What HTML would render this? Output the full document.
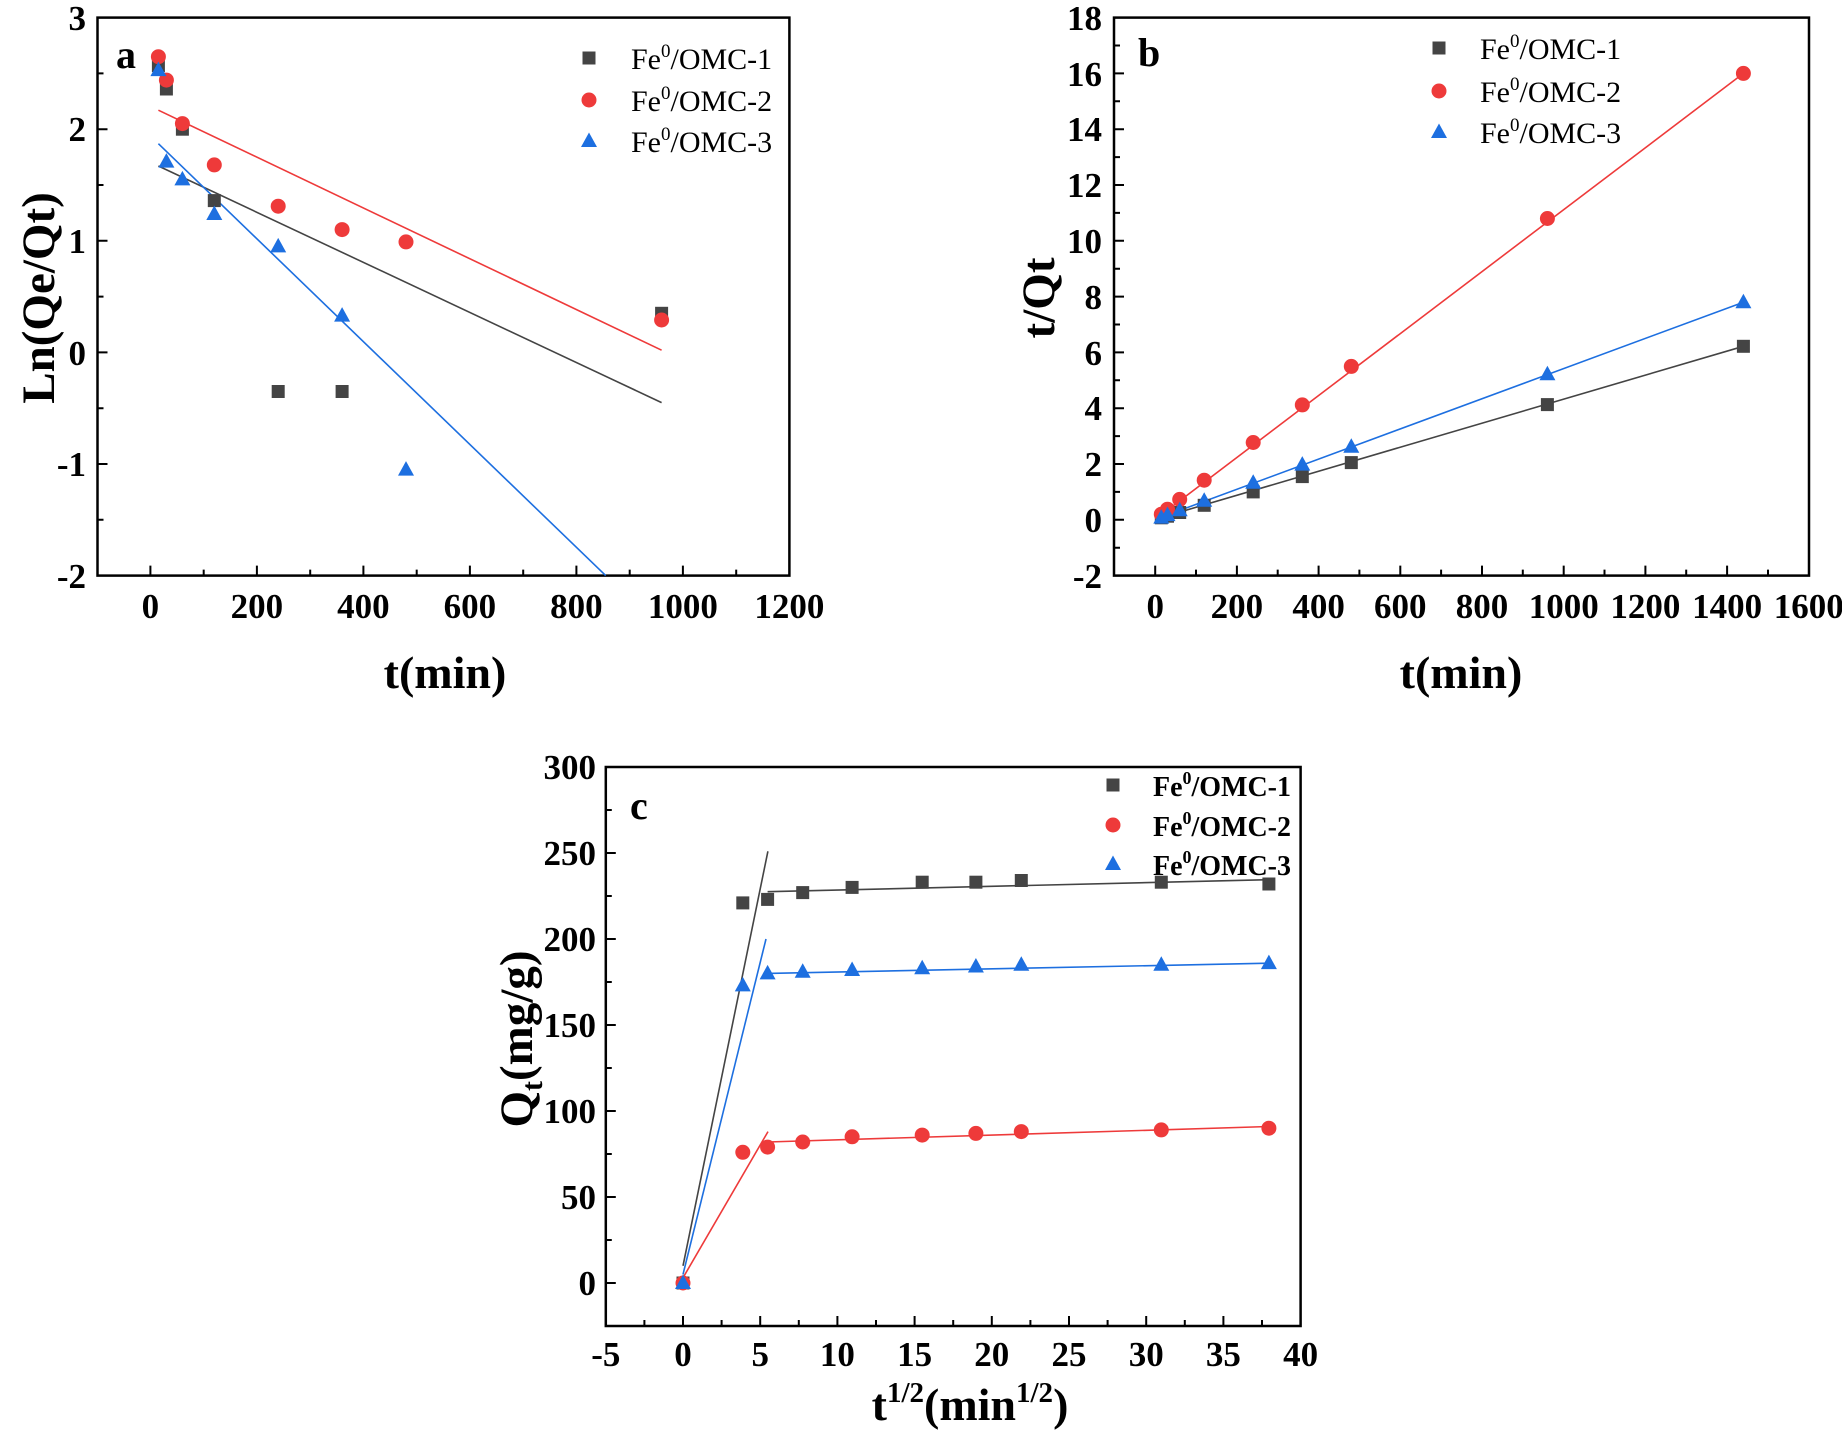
<!DOCTYPE html>
<html><head><meta charset="utf-8"><style>html,body{margin:0;padding:0;background:#fff}svg{display:block}</style></head>
<body>
<svg width="1842" height="1436" viewBox="0 0 1842 1436" xmlns="http://www.w3.org/2000/svg" font-family="'Liberation Serif', serif">
<defs>
<rect id="sq" x="-6.5" y="-6.5" width="13" height="13" fill="#444"/>
<circle id="ci" r="7.5" fill="#ee3a3a"/>
<polygon id="tr" points="0,-8.5 8,6 -8,6" fill="#1d6fe0"/>
</defs>
<g stroke="#000" stroke-width="2.5" fill="none">
<rect x="97.5" y="17.6" width="691.9" height="558"/>
<rect x="1114" y="17.6" width="695" height="558"/>
<rect x="605.8" y="767" width="694.8" height="559"/>
</g>
<path stroke="#000" stroke-width="2" d="M97.5 129.2h10M97.5 240.8h10M97.5 352.4h10M97.5 464h10M97.5 73.4h6M97.5 185h6M97.5 296.6h6M97.5 408.2h6M97.5 519.8h6
M150.4 575.6v-10M256.9 575.6v-10M363.4 575.6v-10M469.9 575.6v-10M576.4 575.6v-10M682.9 575.6v-10
M203.7 575.6v-6M310.2 575.6v-6M416.7 575.6v-6M523.2 575.6v-6M629.7 575.6v-6M736.2 575.6v-6"/>
<g font-weight="bold" font-size="35" text-anchor="end">
<text x="86" y="30">3</text><text x="86" y="141">2</text><text x="86" y="253">1</text><text x="86" y="365">0</text><text x="86" y="476">-1</text><text x="86" y="588">-2</text>
</g>
<g font-weight="bold" font-size="35" text-anchor="middle">
<text x="150.4" y="618">0</text><text x="256.9" y="618">200</text><text x="363.4" y="618">400</text><text x="469.9" y="618">600</text><text x="576.4" y="618">800</text><text x="682.9" y="618">1000</text><text x="789.4" y="618">1200</text>
<text x="445" y="688" font-size="46">t(min)</text>
<text transform="translate(38,298) rotate(-90)" x="0" y="16" font-size="47">Ln(Qe/Qt)</text>
</g>
<text x="116" y="68" font-weight="bold" font-size="40">a</text>
<g font-size="30">
<use href="#sq" x="589" y="58"/><text x="631" y="69">Fe<tspan font-size="19" dy="-12">0</tspan><tspan dy="12">/OMC-1</tspan></text>
<use href="#ci" x="589" y="100"/><text x="631" y="111">Fe<tspan font-size="19" dy="-12">0</tspan><tspan dy="12">/OMC-2</tspan></text>
<use href="#tr" x="589" y="141"/><text x="631" y="152">Fe<tspan font-size="19" dy="-12">0</tspan><tspan dy="12">/OMC-3</tspan></text>
</g>
<g stroke-width="1.6">
<line x1="158.4" y1="166" x2="661.6" y2="402.6" stroke="#444"/>
<line x1="158.4" y1="110.2" x2="661.6" y2="350.2" stroke="#ee3a3a"/>
<line x1="158.4" y1="143.7" x2="605.7" y2="575.6" stroke="#1d6fe0"/>
</g>
<use href="#sq" x="158.4" y="65.6"/><use href="#sq" x="166.4" y="89"/><use href="#sq" x="182.4" y="129.2"/><use href="#sq" x="214.3" y="200.6"/><use href="#sq" x="278.2" y="391.5"/><use href="#sq" x="342.1" y="391.5"/><use href="#sq" x="661.6" y="313.3"/>
<use href="#ci" x="158.4" y="56.7"/><use href="#ci" x="166.4" y="80.1"/><use href="#ci" x="182.4" y="123.6"/><use href="#ci" x="214.3" y="164.9"/><use href="#ci" x="278.2" y="206.2"/><use href="#ci" x="342.1" y="229.6"/><use href="#ci" x="406" y="241.9"/><use href="#ci" x="661.6" y="320"/>
<use href="#tr" x="158.4" y="70.1"/><use href="#tr" x="166.4" y="161.6"/><use href="#tr" x="182.4" y="179.4"/><use href="#tr" x="214.3" y="214"/><use href="#tr" x="278.2" y="246.4"/><use href="#tr" x="342.1" y="315.6"/><use href="#tr" x="406" y="469.6"/>

<path stroke="#000" stroke-width="2" d="M1114 73.4h10M1114 129.2h10M1114 185h10M1114 240.8h10M1114 296.6h10M1114 352.4h10M1114 408.2h10M1114 464h10M1114 519.8h10
M1114 45.5h6M1114 101.3h6M1114 157.1h6M1114 212.9h6M1114 268.7h6M1114 324.5h6M1114 380.3h6M1114 436.1h6M1114 491.9h6M1114 547.7h6
M1155.2 575.6v-10M1236.9 575.6v-10M1318.6 575.6v-10M1400.3 575.6v-10M1482 575.6v-10M1563.7 575.6v-10M1645.4 575.6v-10M1727.1 575.6v-10
M1196 575.6v-6M1277.7 575.6v-6M1359.4 575.6v-6M1441.1 575.6v-6M1522.8 575.6v-6M1604.5 575.6v-6M1686.2 575.6v-6M1768 575.6v-6"/>
<g font-weight="bold" font-size="35" text-anchor="end">
<text x="1102" y="30">18</text><text x="1102" y="86">16</text><text x="1102" y="141">14</text><text x="1102" y="197">12</text><text x="1102" y="253">10</text><text x="1102" y="309">8</text><text x="1102" y="365">6</text><text x="1102" y="420">4</text><text x="1102" y="476">2</text><text x="1102" y="532">0</text><text x="1102" y="588">-2</text>
</g>
<g font-weight="bold" font-size="35" text-anchor="middle">
<text x="1155.2" y="618">0</text><text x="1236.9" y="618">200</text><text x="1318.6" y="618">400</text><text x="1400.3" y="618">600</text><text x="1482" y="618">800</text><text x="1563.7" y="618">1000</text><text x="1645.4" y="618">1200</text><text x="1727.1" y="618">1400</text><text x="1808.8" y="618">1600</text>
<text x="1461" y="688" font-size="46">t(min)</text>
<text transform="translate(1038,298) rotate(-90)" x="0" y="16" font-size="47">t/Qt</text>
</g>
<text x="1138" y="66" font-weight="bold" font-size="40">b</text>
<g font-size="30">
<use href="#sq" x="1439" y="48"/><text x="1480" y="59">Fe<tspan font-size="19" dy="-12">0</tspan><tspan dy="12">/OMC-1</tspan></text>
<use href="#ci" x="1439" y="91"/><text x="1480" y="102">Fe<tspan font-size="19" dy="-12">0</tspan><tspan dy="12">/OMC-2</tspan></text>
<use href="#tr" x="1439" y="132"/><text x="1480" y="143">Fe<tspan font-size="19" dy="-12">0</tspan><tspan dy="12">/OMC-3</tspan></text>
</g>
<g stroke-width="1.6">
<line x1="1161.3" y1="517.5" x2="1743.4" y2="346.3" stroke="#444"/>
<line x1="1161.3" y1="514.8" x2="1743.4" y2="73.4" stroke="#ee3a3a"/>
<line x1="1161.3" y1="517.2" x2="1743.4" y2="302.2" stroke="#1d6fe0"/>
</g>
<use href="#sq" x="1161.3" y="517.8"/><use href="#sq" x="1167.5" y="516.2"/><use href="#sq" x="1179.7" y="512.5"/><use href="#sq" x="1204.2" y="505.3"/><use href="#sq" x="1253.2" y="491.9"/><use href="#sq" x="1302.3" y="476.6"/><use href="#sq" x="1351.3" y="462.6"/><use href="#sq" x="1547.4" y="404.6"/><use href="#sq" x="1743.4" y="346.3"/>
<use href="#ci" x="1161.3" y="514.2"/><use href="#ci" x="1167.5" y="509.2"/><use href="#ci" x="1179.7" y="499.4"/><use href="#ci" x="1204.2" y="480.2"/><use href="#ci" x="1253.2" y="442.5"/><use href="#ci" x="1302.3" y="404.9"/><use href="#ci" x="1351.3" y="366.4"/><use href="#ci" x="1547.4" y="218.5"/><use href="#ci" x="1743.4" y="73.4"/>
<use href="#tr" x="1161.3" y="517.6"/><use href="#tr" x="1167.5" y="515.1"/><use href="#tr" x="1179.7" y="510.3"/><use href="#tr" x="1204.2" y="500.8"/><use href="#tr" x="1253.2" y="482.7"/><use href="#tr" x="1302.3" y="464.6"/><use href="#tr" x="1351.3" y="446.7"/><use href="#tr" x="1547.4" y="374.2"/><use href="#tr" x="1743.4" y="302.2"/>

<path stroke="#000" stroke-width="2" d="M605.8 853h10M605.8 939h10M605.8 1025h10M605.8 1111h10M605.8 1197h10M605.8 1283h10
M605.8 810h6M605.8 896h6M605.8 982h6M605.8 1068h6M605.8 1154h6M605.8 1240h6
M683 1326v-10M760.2 1326v-10M837.4 1326v-10M914.6 1326v-10M991.8 1326v-10M1069 1326v-10M1146.2 1326v-10M1223.4 1326v-10
M644.4 1326v-6M721.6 1326v-6M798.8 1326v-6M876 1326v-6M953.2 1326v-6M1030.4 1326v-6M1107.6 1326v-6M1184.8 1326v-6M1262 1326v-6"/>
<g font-weight="bold" font-size="35" text-anchor="end">
<text x="596" y="779">300</text><text x="596" y="865">250</text><text x="596" y="951">200</text><text x="596" y="1037">150</text><text x="596" y="1123">100</text><text x="596" y="1209">50</text><text x="596" y="1295">0</text>
</g>
<g font-weight="bold" font-size="35" text-anchor="middle">
<text x="605.8" y="1366">-5</text><text x="683" y="1366">0</text><text x="760.2" y="1366">5</text><text x="837.4" y="1366">10</text><text x="914.6" y="1366">15</text><text x="991.8" y="1366">20</text><text x="1069" y="1366">25</text><text x="1146.2" y="1366">30</text><text x="1223.4" y="1366">35</text><text x="1300.6" y="1366">40</text>
<text x="970" y="1420" font-size="46">t<tspan font-size="29" dy="-18">1/2</tspan><tspan dy="18">(min</tspan><tspan font-size="29" dy="-18">1/2</tspan><tspan dy="18">)</tspan></text>
<text transform="translate(516,1039) rotate(-90)" x="0" y="16" font-size="47">Q<tspan font-size="30" dy="10">t</tspan><tspan dy="-10">(mg/g)</tspan></text>
</g>
<text x="630" y="819" font-weight="bold" font-size="40">c</text>
<g font-size="28" font-weight="bold">
<use href="#sq" x="1113" y="785"/><text x="1153" y="796" textLength="138" lengthAdjust="spacingAndGlyphs">Fe<tspan font-size="18" dy="-12">0</tspan><tspan dy="12">/OMC-1</tspan></text>
<use href="#ci" x="1113" y="825"/><text x="1153" y="836" textLength="138" lengthAdjust="spacingAndGlyphs">Fe<tspan font-size="18" dy="-12">0</tspan><tspan dy="12">/OMC-2</tspan></text>
<use href="#tr" x="1113" y="864"/><text x="1153" y="875" textLength="138" lengthAdjust="spacingAndGlyphs">Fe<tspan font-size="18" dy="-12">0</tspan><tspan dy="12">/OMC-3</tspan></text>
</g>
<g stroke-width="1.6">
<line x1="683" y1="1265.8" x2="767.9" y2="851.3" stroke="#444"/>
<line x1="767.6" y1="891.7" x2="1269" y2="879.7" stroke="#444"/>
<line x1="683" y1="1274.4" x2="766" y2="939" stroke="#1d6fe0"/>
<line x1="767.6" y1="973.4" x2="1269" y2="963.2" stroke="#1d6fe0"/>
<line x1="683" y1="1277.8" x2="768" y2="1131.6" stroke="#ee3a3a"/>
<line x1="767.6" y1="1142" x2="1269" y2="1126.5" stroke="#ee3a3a"/>
</g>
<use href="#sq" x="683" y="1283"/><use href="#sq" x="742.8" y="902.9"/><use href="#sq" x="767.6" y="899.4"/><use href="#sq" x="802.7" y="892.6"/><use href="#sq" x="852.1" y="887.4"/><use href="#sq" x="922.2" y="882.2"/><use href="#sq" x="975.9" y="882.2"/><use href="#sq" x="1021.3" y="880.5"/><use href="#sq" x="1161.3" y="882.2"/><use href="#sq" x="1268.9" y="884"/>
<use href="#ci" x="683" y="1283"/><use href="#ci" x="742.8" y="1152.3"/><use href="#ci" x="767.6" y="1147.1"/><use href="#ci" x="802.7" y="1142"/><use href="#ci" x="852.1" y="1136.8"/><use href="#ci" x="922.2" y="1135.1"/><use href="#ci" x="975.9" y="1133.4"/><use href="#ci" x="1021.3" y="1131.6"/><use href="#ci" x="1161.3" y="1129.9"/><use href="#ci" x="1268.9" y="1128.2"/>
<use href="#tr" x="683" y="1283"/><use href="#tr" x="742.8" y="985.4"/><use href="#tr" x="767.6" y="973.4"/><use href="#tr" x="802.7" y="971.7"/><use href="#tr" x="852.1" y="970"/><use href="#tr" x="922.2" y="968.2"/><use href="#tr" x="975.9" y="966.5"/><use href="#tr" x="1021.3" y="964.8"/><use href="#tr" x="1161.3" y="964.8"/><use href="#tr" x="1268.9" y="963.1"/>
</svg>
</body></html>
